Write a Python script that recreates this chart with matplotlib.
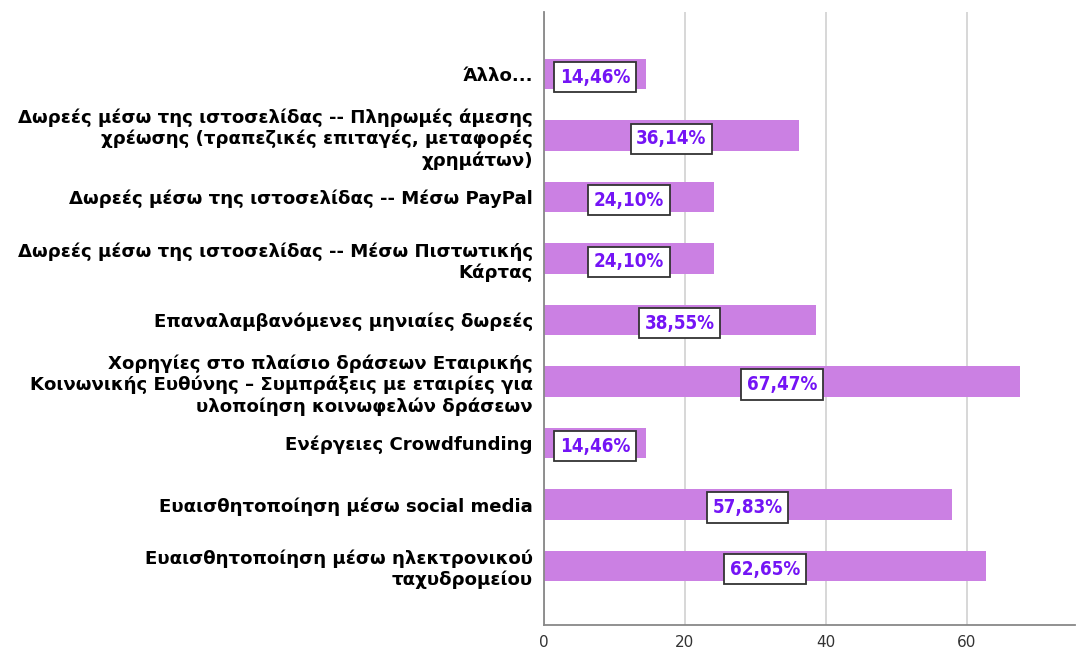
import numpy as np
from matplotlib import pyplot as plt

categories = [
    'Άλλο...',
    'Δωρεές μέσω της ιστοσελίδας -- Πληρωμές άμεσης\nχρέωσης (τραπεζικές επιταγές, μεταφορές\nχρημάτων)',
    'Δωρεές μέσω της ιστοσελίδας -- Μέσω PayPal',
    'Δωρεές μέσω της ιστοσελίδας -- Μέσω Πιστωτικής\nΚάρτας',
    'Επαναλαμβανόμενες μηνιαίες δωρεές',
    'Χορηγίες στο πλαίσιο δράσεων Εταιρικής\nΚοινωνικής Ευθύνης – Συμπράξεις με εταιρίες για\nυλοποίηση κοινωφελών δράσεων',
    'Ενέργειες Crowdfunding',
    'Ευαισθητοποίηση μέσω social media',
    'Ευαισθητοποίηση μέσω ηλεκτρονικού\nταχυδρομείου',
]
values = [14.46, 36.14, 24.10, 24.10, 38.55, 67.47, 14.46, 57.83, 62.65]
xticks = [0, 20, 40, 60]

bar_color = '#CB80E3'
text_color = '#7414F5'

fig = plt.figure(figsize=(10.78, 6.5), dpi=100)
ax = fig.add_axes([0.5046, 0.0385, 0.4924, 0.943])

y = np.arange(len(categories))
ax.barh(y, values, height=0.5, color=bar_color, zorder=2)

for yi, v in zip(y, values):
    lbl = ('%.2f' % v).replace('.', ',') + '%'
    ax.text(v / 2, yi + 0.05, lbl, ha='center', va='center', fontsize=13.5,
            fontweight='bold', color=text_color, fontstretch='condensed',
            family=['DejaVu Sans'],
            bbox=dict(boxstyle='square,pad=0.3', fc='white', ec='#333333', lw=1.3),
            zorder=3)

ax.set_ylim(len(categories) - 1 + 0.96, -1.01)
ax.set_xlim(0, 75.3)
ax.set_yticks(y)
ax.set_yticklabels(categories, fontsize=13.1, fontweight='bold', linespacing=1.2)
ax.set_xticks(xticks)
ax.set_xticklabels([str(t) for t in xticks], fontsize=11, color='#333333')
ax.tick_params(axis='x', length=0, pad=7)
ax.tick_params(axis='y', length=0, pad=8)

ax.grid(axis='x', color='#D4D4D4', lw=1.3, zorder=0)
ax.set_axisbelow(True)
for s in ['top', 'right']:
    ax.spines[s].set_visible(False)
ax.spines['left'].set_color('#888888')
ax.spines['left'].set_linewidth(1.3)
ax.spines['bottom'].set_color('#888888')
ax.spines['bottom'].set_linewidth(1.3)

plt.savefig('out.png', dpi=100)
